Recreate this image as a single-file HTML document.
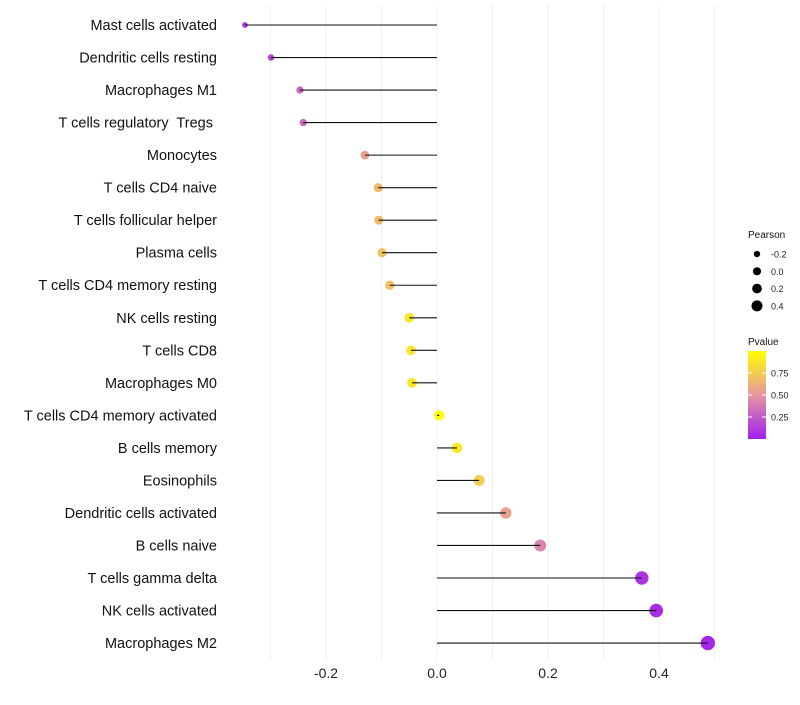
<!DOCTYPE html>
<html><head><meta charset="utf-8"><style>
body{margin:0;background:#fff;}
svg text{font-family:"Liberation Sans",Arial,sans-serif;white-space:pre;}
</style></head><body>
<svg id="chart" width="800" height="700">
<g id="grid"></g><g id="marks"></g><g id="labels"></g><g id="legend"></g>
</svg>
<script>
const categories=["Mast cells activated","Dendritic cells resting","Macrophages M1","T cells regulatory  Tregs ","Monocytes","T cells CD4 naive","T cells follicular helper","Plasma cells","T cells CD4 memory resting","NK cells resting","T cells CD8","Macrophages M0","T cells CD4 memory activated","B cells memory","Eosinophils","Dendritic cells activated","B cells naive","T cells gamma delta","NK cells activated","Macrophages M2"];
const pearson=[-0.346,-0.299,-0.247,-0.241,-0.130,-0.106,-0.105,-0.099,-0.085,-0.050,-0.047,-0.045,0.004,0.036,0.076,0.124,0.186,0.369,0.395,0.488];
const pvalues=[0.08,0.15,0.3,0.3,0.56,0.66,0.67,0.7,0.7,0.88,0.88,0.88,1.0,0.9,0.76,0.56,0.42,0.08,0.06,0.03];
const xTicks=[-0.2,0.0,0.2,0.4];
const xMinor=[-0.3,-0.1,0.1,0.3,0.5];
const sizeBreaks=[-0.2,0.0,0.2,0.4];
const colorBreaks=[0.25,0.5,0.75];
const NS="http://www.w3.org/2000/svg";
const xs=v=>437+v*555;
const ys=i=>25+i*32.53;
const rs=v=>Math.sqrt(Math.max(1.8,26+52*v));
function col(p){
  const a=[160,32,240],b=[230,150,160],c=[255,255,0];
  let s,e,t;
  if(p<0.5){s=a;e=b;t=p/0.5;}else{s=b;e=c;t=(p-0.5)/0.5;}
  return "rgb("+s.map((v,k)=>Math.round(v+(e[k]-v)*t)).join(",")+")";
}
function mk(tag,attrs,parent,txt){const el=document.createElementNS(NS,tag);for(const k in attrs)el.setAttribute(k,attrs[k]);if(txt!==undefined)el.textContent=txt;parent.appendChild(el);return el;}
const grid=document.getElementById('grid'),marks=document.getElementById('marks'),labels=document.getElementById('labels'),legend=document.getElementById('legend');
xMinor.concat(xTicks).forEach(v=>{
  const l=mk('line',{x1:xs(v),x2:xs(v),y1:5,y2:660,stroke:'#f1f1f1','stroke-width':1},grid);
  
  
});
xTicks.forEach(v=>{
  const t=mk('text',{x:xs(v),y:678,'text-anchor':'middle','font-size':14,fill:'#222'},labels,v.toFixed(1));
  
  
});
categories.forEach((c,i)=>{
  const y=ys(i);
  const t=mk('text',{x:217,y:y+5,'text-anchor':'end','font-size':14.5,fill:'#111'},labels,c);
  
  
  const d=mk('circle',{cx:xs(pearson[i]),cy:y,r:rs(pearson[i]),fill:col(pvalues[i])},marks);
  
  
  const l=mk('line',{x1:xs(0),x2:xs(pearson[i]),y1:y,y2:y,stroke:'#111','stroke-width':1.1},marks);
  
  
});
let lt=mk('text',{x:748,y:238,'font-size':10,fill:'#111'},legend,'Pearson');


sizeBreaks.forEach((v,i)=>{
  const y=254+i*17.3;
  const c=mk('circle',{cx:757,cy:y,r:rs(v)*0.8,fill:'#000'},legend);
  
  
  const t=mk('text',{x:771,y:y+3.5,'font-size':9,fill:'#222'},legend,v.toFixed(1));
  
  
});
lt=mk('text',{x:748,y:345,'font-size':10,fill:'#111'},legend,'Pvalue');


const defs=mk('defs',{},legend);
const g=mk('linearGradient',{id:'pg',x1:0,y1:1,x2:0,y2:0},defs);
[0,0.25,0.5,0.75,1].forEach(p=>mk('stop',{offset:p,'stop-color':col(p)},g));
const bar=mk('rect',{x:748,y:351,width:18,height:88,fill:'url(#pg)'},legend);


colorBreaks.forEach(p=>{
  const y=439-p*88;
  mk('line',{x1:748,x2:752,y1:y,y2:y,stroke:'#fff'},legend);
  mk('line',{x1:762,x2:766,y1:y,y2:y,stroke:'#fff'},legend);
  const t=mk('text',{x:771,y:y+3.5,'font-size':9,fill:'#222'},legend,p.toFixed(2));
  
  
});
</script>
</body></html>
